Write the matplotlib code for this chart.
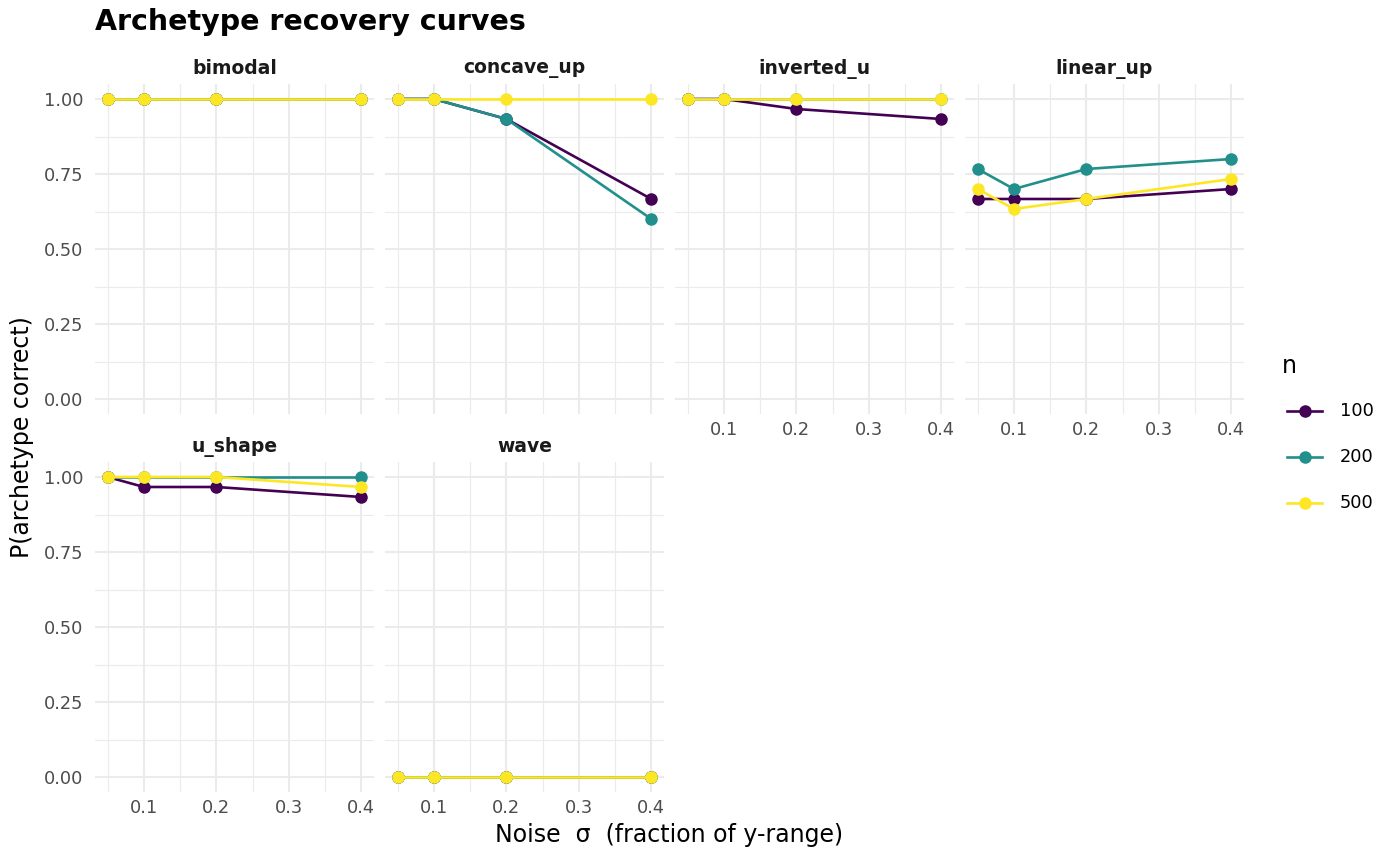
import matplotlib
matplotlib.use("Agg")
import matplotlib.pyplot as plt
from matplotlib.lines import Line2D

# Noise levels (x) and sample sizes (series)
sigma = [0.05, 0.1, 0.2, 0.4]
sizes = ["100", "200", "500"]
colors = {"100": "#440154", "200": "#21908C", "500": "#FDE725"}

# P(archetype correct) per archetype, per n
bimodal = {"100": [1, 1, 1, 1], "200": [1, 1, 1, 1], "500": [1, 1, 1, 1]}
concave_up = {"100": [1, 1, 0.9333, 0.6667], "200": [1, 1, 0.9333, 0.6],
              "500": [1, 1, 1, 1]}
inverted_u = {"100": [1, 1, 0.9667, 0.9333], "200": [1, 1, 1, 1],
              "500": [1, 1, 1, 1]}
linear_up = {"100": [0.6667, 0.6667, 0.6667, 0.7],
             "200": [0.7667, 0.7, 0.7667, 0.8],
             "500": [0.7, 0.6333, 0.6667, 0.7333]}
u_shape = {"100": [1, 0.9667, 0.9667, 0.9333], "200": [1, 1, 1, 1],
           "500": [1, 1, 1, 0.9667]}
wave = {"100": [0, 0, 0, 0], "200": [0, 0, 0, 0], "500": [0, 0, 0, 0]}

panels = [("bimodal", bimodal), ("concave_up", concave_up),
          ("inverted_u", inverted_u), ("linear_up", linear_up),
          ("u_shape", u_shape), ("wave", wave)]

W, H = 1400, 866
fig = plt.figure(figsize=(W / 100, H / 100), dpi=100)
fig.patch.set_facecolor("white")

# panel boxes in pixels: left, top, width, height
col_left = [95, 385, 675, 965]
row_top = [84, 462]
pw, ph = 279, 330

grid_col = "#EBEBEB"
tick_col = "#4D4D4D"

for i, (name, data) in enumerate(panels):
    r, c = divmod(i, 4)
    x0 = col_left[c]
    y0 = row_top[r]
    ax = fig.add_axes([x0 / W, 1 - (y0 + ph) / H, pw / W, ph / H])
    ax.set_xlim(0.0325, 0.4175)
    ax.set_ylim(-0.05, 1.05)
    ax.set_xticks([0.1, 0.2, 0.3, 0.4])
    ax.set_xticks([0.05, 0.15, 0.25, 0.35], minor=True)
    ax.set_yticks([0, 0.25, 0.5, 0.75, 1.0])
    ax.set_yticks([0.125, 0.375, 0.625, 0.875], minor=True)
    ax.grid(which="major", color=grid_col, lw=1.5)
    ax.grid(which="minor", color=grid_col, lw=0.8)
    ax.set_axisbelow(True)
    for s in ax.spines.values():
        s.set_visible(False)
    ax.tick_params(which="both", length=0, colors=tick_col, labelsize=12.8)
    ax.tick_params(axis="x", pad=5)
    ax.tick_params(axis="y", pad=8.5)

    show_x = (r == 1) or (r == 0 and c >= 2)
    if show_x:
        ax.set_xticklabels(["0.1", "0.2", "0.3", "0.4"])
    else:
        ax.set_xticklabels([])
    if c == 0:
        ax.set_yticklabels(["0.00", "0.25", "0.50", "0.75", "1.00"])
    else:
        ax.set_yticklabels([])

    for n in sizes:
        ax.plot(sigma, data[n], color=colors[n], lw=1.9, marker="o",
                markersize=8, clip_on=False, zorder=3)

    fig.text((x0 + pw / 2) / W, 1 - (y0 - 15) / H, name, ha="center",
             va="center", fontsize=13.5, fontweight="bold", color="#1A1A1A")

fig.text(95 / W, 1 - 22 / H, "Archetype recovery curves", ha="left",
         va="center", fontsize=20.5, fontweight="bold", color="black")
fig.text(669 / W, 1 - 835 / H, "Noise  \u03c3  (fraction of y-range)",
         ha="center", va="center", fontsize=17, color="black")
fig.text(22 / W, 1 - 437 / H, "P(archetype correct)", ha="center",
         va="center", rotation=90, fontsize=17, color="black")

# legend
fig.text(1282 / W, 1 - 366 / H, "n", ha="left", va="center", fontsize=17)
for k, n in enumerate(sizes):
    yy = 1 - (411 + 46 * k) / H
    fig.add_artist(Line2D([1287 / W, 1322 / W], [yy, yy], color=colors[n],
                          lw=1.9, marker=None))
    fig.add_artist(Line2D([1304.5 / W], [yy], color=colors[n], marker="o",
                          markersize=8, lw=0))
    fig.text(1340 / W, yy, n, ha="left", va="center", fontsize=12.8)

fig.savefig("out.png", dpi=100, facecolor="white")
